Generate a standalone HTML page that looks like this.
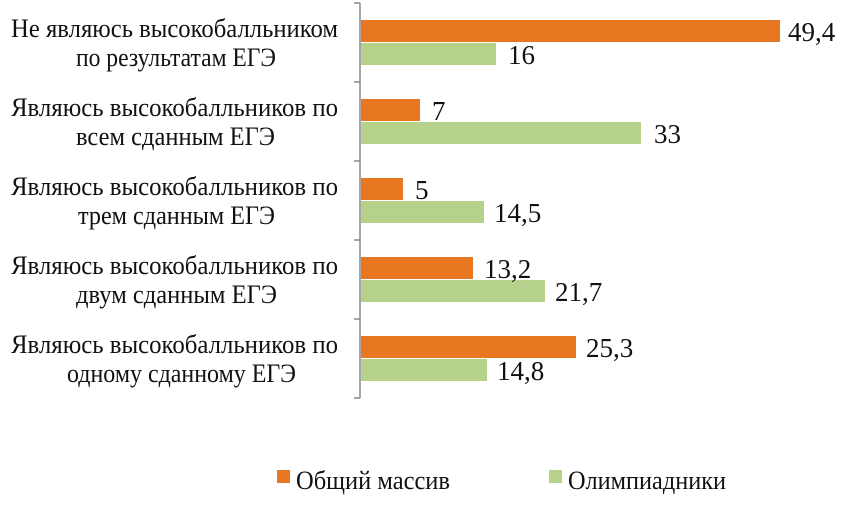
<!DOCTYPE html>
<html><head><meta charset="utf-8"><style>
body{margin:0;background:#fff}
svg text{font-family:"Liberation Serif",serif;fill:#111}
</style></head><body>
<svg width="853" height="501" xmlns="http://www.w3.org/2000/svg">
<g stroke="#888" stroke-width="1.5">
<line x1="360" y1="3" x2="360" y2="398"/>
<line x1="354" y1="3" x2="360" y2="3"/>
<line x1="354" y1="82" x2="360" y2="82"/>
<line x1="354" y1="161" x2="360" y2="161"/>
<line x1="354" y1="240" x2="360" y2="240"/>
<line x1="354" y1="319" x2="360" y2="319"/>
<line x1="354" y1="398" x2="360" y2="398"/>
</g>
<g fill="#E87722">
<rect x="361" y="20" width="419" height="22"/>
<rect x="361" y="99" width="59" height="22"/>
<rect x="361" y="178" width="42" height="22"/>
<rect x="361" y="257" width="112" height="22"/>
<rect x="361" y="336" width="215" height="22"/>
</g>
<g fill="#B5D18A">
<rect x="361" y="43" width="135" height="22"/>
<rect x="361" y="122" width="280" height="22"/>
<rect x="361" y="201" width="123" height="22"/>
<rect x="361" y="280" width="184" height="22"/>
<rect x="361" y="359" width="126" height="22"/>
</g>
<g font-size="27">
<text x="788" y="41">49,4</text><text x="508" y="64">16</text>
<text x="432" y="120">7</text><text x="654" y="143">33</text>
<text x="415" y="199">5</text><text x="494" y="222">14,5</text>
<text x="484" y="278">13,2</text><text x="555" y="301">21,7</text>
<text x="586" y="357">25,3</text><text x="497" y="380">14,8</text>
</g>
<g font-size="26" lengthAdjust="spacingAndGlyphs">
<text x="11" y="37" textLength="327" lengthAdjust="spacingAndGlyphs">Не являюсь высокобалльником</text>
<text x="76" y="66" textLength="200" lengthAdjust="spacingAndGlyphs">по результатам ЕГЭ</text>
<text x="11" y="116" textLength="327" lengthAdjust="spacingAndGlyphs">Являюсь высокобалльников по</text>
<text x="76" y="145" textLength="199" lengthAdjust="spacingAndGlyphs">всем сданным ЕГЭ</text>
<text x="11" y="195" textLength="327" lengthAdjust="spacingAndGlyphs">Являюсь высокобалльников по</text>
<text x="78" y="224" textLength="197" lengthAdjust="spacingAndGlyphs">трем сданным ЕГЭ</text>
<text x="11" y="274" textLength="327" lengthAdjust="spacingAndGlyphs">Являюсь высокобалльников по</text>
<text x="76" y="303" textLength="201" lengthAdjust="spacingAndGlyphs">двум сданным ЕГЭ</text>
<text x="11" y="353" textLength="327" lengthAdjust="spacingAndGlyphs">Являюсь высокобалльников по</text>
<text x="67" y="382" textLength="229" lengthAdjust="spacingAndGlyphs">одному сданному ЕГЭ</text>
</g>
<rect x="277" y="470" width="13" height="13" fill="#E87722"/>
<text x="296" y="489" font-size="26" textLength="154" lengthAdjust="spacingAndGlyphs">Общий массив</text>
<rect x="549" y="470" width="13" height="13" fill="#B5D18A"/>
<text x="568" y="489" font-size="26" textLength="158" lengthAdjust="spacingAndGlyphs">Олимпиадники</text>
</svg>
</body></html>
